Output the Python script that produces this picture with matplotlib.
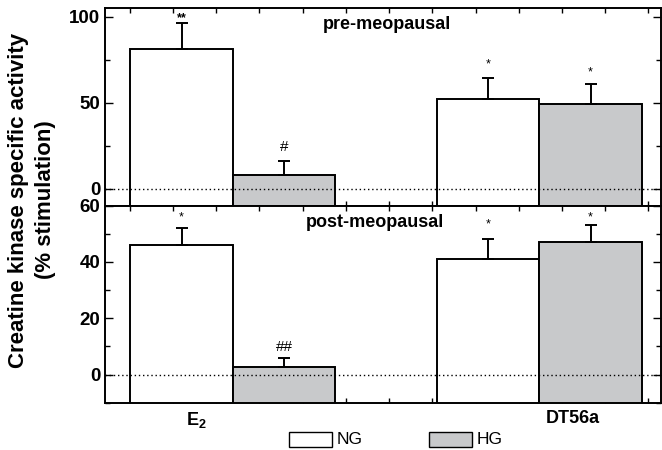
import numpy as np
import matplotlib
matplotlib.use('Agg')
import matplotlib.pyplot as plt
from matplotlib.ticker import MultipleLocator
from matplotlib.patches import Rectangle

plt.rcParams['font.family'] = ['Liberation Sans', 'DejaVu Sans']
plt.rcParams['mathtext.fontset'] = 'custom'
plt.rcParams['mathtext.rm'] = 'Liberation Sans'
plt.rcParams['mathtext.bf'] = 'Liberation Sans:bold'

groups = ['E$_\\mathbf{2}$', 'DT56a']
series = ['NG', 'HG']

pre_ng = [81, 52]
pre_ng_err = [15, 12]
pre_hg = [8, 49]
pre_hg_err = [8, 12]
pre_marks_ng = ['**', '*']
pre_marks_hg = ['#', '*']

post_ng = [46, 41]
post_ng_err = [6, 7]
post_hg = [2.7, 47]
post_hg_err = [3.2, 6]
post_marks_ng = ['*', '*']
post_marks_hg = ['##', '*']

gray = '#c8c9cb'
W, H = 662, 450
fig = plt.figure(figsize=(W / 100, H / 100), dpi=100)

left, right = 105, 661
ax1 = fig.add_axes([left / W, 1 - 205.7 / H, (right - left) / W, 197.7 / H])
ax2 = fig.add_axes([left / W, 1 - 402.7 / H, (right - left) / W, 197.0 / H])

x = np.array([1.0, 2.0])
bw = 0.334


def panel(ax, ng, ng_err, hg, hg_err, mk_ng, mk_hg, offs, ylim, major, minor, title, title_xy):
    for vals, errs, marks, off, dx, col in [(ng, ng_err, mk_ng, offs[0], -bw / 2, 'white'),
                                            (hg, hg_err, mk_hg, offs[1], bw / 2, gray)]:
        # bars reach down to the bottom of the axes
        ax.bar(x + dx, np.array(vals) - ylim[0] + 1, bw, bottom=ylim[0] - 1, color=col,
               edgecolor='black', linewidth=1.4, zorder=2)
        ax.errorbar(x + dx, vals, yerr=[np.zeros(len(errs)), errs], fmt='none',
                    ecolor='black', elinewidth=1.4, capsize=4.5, capthick=1.4, zorder=3)
        for xi, v, e, m, o in zip(x + dx, vals, errs, marks, off):
            fs = 11 if '#' in m else 9
            ax.annotate(m, (xi, v + e), xytext=(0, o), textcoords='offset points',
                        ha='center', va='center', fontsize=fs,
                        fontweight='bold' if m == '**' else 'normal')
    ax.set_ylim(*ylim)
    ax.axhline(0, color='black', linestyle=(0, (1.0, 2.0)), linewidth=1.0, zorder=4)
    ax.set_xlim(0.583, 2.397)
    ax.yaxis.set_major_locator(MultipleLocator(major))
    ax.yaxis.set_minor_locator(MultipleLocator(minor))
    ax.xaxis.set_minor_locator(MultipleLocator(0.141, offset=0.664))
    ax.tick_params(which='both', direction='in', top=True, right=True, width=1.0)
    ax.tick_params(which='major', length=6, labelsize=13.5)
    ax.tick_params(which='minor', length=3.5)
    ax.tick_params(axis='x', which='major', length=0)
    for lab in ax.get_yticklabels():
        lab.set_fontweight('bold')
    for s in ax.spines.values():
        s.set_linewidth(1.4)
    ax.text(title_xy[0], title_xy[1], title, transform=ax.transAxes, ha='center',
            va='center', fontsize=13, fontweight='bold')


panel(ax1, pre_ng, pre_ng_err, pre_hg, pre_hg_err, pre_marks_ng, pre_marks_hg,
      [[4, 10], [10, 8]], (-10, 105), 50, 25, 'pre-meopausal',
      ((387 - left) / (right - left), (205.7 - 25) / 197.7))
panel(ax2, post_ng, post_ng_err, post_hg, post_hg_err, post_marks_ng, post_marks_hg,
      [[8, 11], [8, 6]], (-10, 60), 20, 10, 'post-meopausal',
      ((375 - left) / (right - left), (402.7 - 223) / 197.0))

ax1.set_xticks([])
ax2.set_xticks([0.88, 2.11])
ax2.set_xticklabels(groups, fontsize=13, fontweight='bold')
ax2.tick_params(axis='x', pad=5)

fig.text(19 / W, 1 - 200 / H, 'Creatine kinase specific activity', rotation=90,
         ha='center', va='center', fontsize=16, fontweight='bold')
fig.text(46 / W, 1 - 200 / H, '(% stimulation)', rotation=90,
         ha='center', va='center', fontsize=16, fontweight='bold')

# legend
for (x0, x1, tx), name, col in zip([(289, 332, 337), (429, 472, 477)], series, ['white', gray]):
    fig.patches.append(Rectangle((x0 / W, 1 - 447 / H), (x1 - x0) / W, 15 / H,
                                 transform=fig.transFigure, facecolor=col,
                                 edgecolor='black', linewidth=1.0))
    fig.text(tx / W, 1 - 440 / H, name, ha='left', va='center', fontsize=12.5)

fig.savefig('out.png', dpi=100)
